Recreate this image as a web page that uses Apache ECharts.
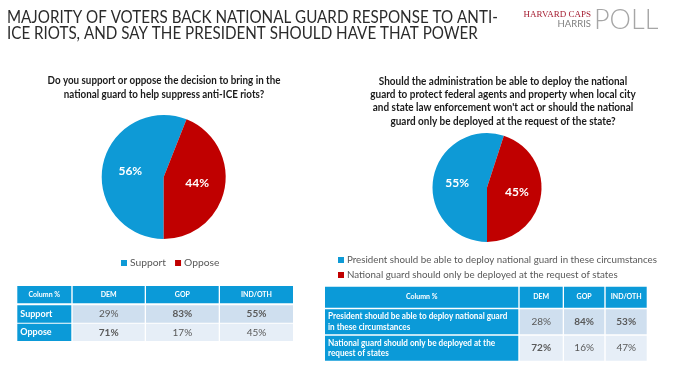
<!DOCTYPE html>
<html><head><meta charset="utf-8">
<script src="https://cdn.jsdelivr.net/npm/echarts@6/dist/echarts.min.js"></script>
<style>html,body{margin:0;padding:0;background:#fff}#c{width:679px;height:373px}</style>
</head><body><div id="c"></div>
<script>
// ---- data ----
const titleLines = ['MAJORITY OF VOTERS BACK NATIONAL GUARD RESPONSE TO ANTI-', 'ICE RIOTS, AND SAY THE PRESIDENT SHOULD HAVE THAT POWER'];
const q1Lines = ['Do you support or oppose the decision to bring in the', 'national guard to help suppress anti-ICE riots?'];
const q2Lines = ['Should the administration be able to deploy the national', 'guard to protect federal agents and property when local city', "and state law enforcement won't act or should the national", 'guard only be deployed at the request of the state?'];
const pie1Names = ['Support', 'Oppose'];
const pie1Values = [56, 44];
const pie2Names = ['President should be able to deploy national guard in these circumstances', 'National guard should only be deployed at the request of states'];
const pie2Values = [55, 45];
const tableCols = ['Column %', 'DEM', 'GOP', 'IND/OTH'];
const table1Rows = [['Support'], ['Oppose']];
const table1Values = [[29, 83, 55], [71, 17, 45]];
const table2Rows = [['President should be able to deploy national guard', 'in these circumstances'], ['National guard should only be deployed at the', 'request of states']];
const table2Values = [[28, 84, 53], [72, 16, 47]];
const logoTop = 'HARVARD CAPS';
const logoMid = 'HARRIS';
const logoBig = 'POLL';

// ---- style ----
const BLUE = '#0e9ad6', RED = '#c00000', HEAD = '#0b9ad8';
const ROWFILL = ['#cfdfef', '#e6eef7'];
const FONT = 'Lato, "Open Sans", sans-serif';

const g = [];
titleLines.forEach((t, i) => g.push({type: 'text', x: 7, y: 17.5 + i * 16.5, scaleX: 0.92, style: {text: t, fontSize: 16.5, fontFamily: FONT, fill: '#2b2b2b', verticalAlign: 'middle', align: 'left'}}));
q1Lines.forEach((t, i) => g.push({type: 'text', x: 164, y: 81 + i * 13.3, scaleX: 0.935, style: {text: t, fontSize: 10.5, fontWeight: 'bold', fontFamily: FONT, fill: '#1a1a1a', verticalAlign: 'middle', align: 'center'}}));
q2Lines.forEach((t, i) => g.push({type: 'text', x: 503, y: 81.7 + i * 13.2, scaleX: 0.95, style: {text: t, fontSize: 10.5, fontWeight: 'bold', fontFamily: FONT, fill: '#1a1a1a', verticalAlign: 'middle', align: 'center'}}));
// logo
g.push({type: 'text', x: 591, y: 14.5, style: {text: logoTop, fontSize: 9, fontFamily: '"Liberation Serif", serif', fill: '#a51c30', verticalAlign: 'middle', align: 'right'}});
g.push({type: 'text', x: 591, y: 23.5, style: {text: logoMid, fontSize: 9.5, fontFamily: FONT, fill: '#7f7f7f', verticalAlign: 'middle', align: 'right'}});
g.push({type: 'text', x: 594, y: 20, style: {text: logoBig, fontSize: 27, fontWeight: 300, fontFamily: FONT, fill: '#a6a6a6', verticalAlign: 'middle', align: 'left'}});

function table(colE, rowE, rows, vals, labelSize, labelScale) {
  tableCols.forEach((c, j) => {
    g.push({type: 'rect', shape: {x: colE[j][0], y: rowE[0][0], width: colE[j][1] - colE[j][0], height: rowE[0][1] - rowE[0][0]}, style: {fill: HEAD}});
    g.push({type: 'text', x: (colE[j][0] + colE[j][1]) / 2, y: (rowE[0][0] + rowE[0][1]) / 2, style: {text: c, fontSize: 7, fontWeight: 'bold', fontFamily: FONT, fill: '#fff', align: 'center', verticalAlign: 'middle'}});
  });
  rows.forEach((r, i) => {
    const y0 = rowE[i + 1][0], y1 = rowE[i + 1][1];
    g.push({type: 'rect', shape: {x: colE[0][0], y: y0, width: colE[0][1] - colE[0][0], height: y1 - y0}, style: {fill: HEAD}});
    const n = r.length;
    r.forEach((t, k) => g.push({type: 'text', x: colE[0][0] + 3, y: (y0 + y1) / 2 + (k - (n - 1) / 2) * 10.7, scaleX: labelScale, style: {text: t, fontSize: labelSize, fontWeight: 'bold', fontFamily: FONT, fill: '#fff', align: 'left', verticalAlign: 'middle'}}));
    vals[i].forEach((v, j) => {
      const c = colE[j + 1];
      g.push({type: 'rect', shape: {x: c[0], y: y0, width: c[1] - c[0], height: y1 - y0}, style: {fill: ROWFILL[i]}});
      g.push({type: 'text', x: (c[0] + c[1]) / 2, y: (y0 + y1) / 2, style: {text: v + '%', fontSize: 10, fontWeight: v > 50 ? 'bold' : 'normal', fontFamily: FONT, fill: '#595959', align: 'center', verticalAlign: 'middle'}});
    });
  });
}
table([[17.3, 71.3], [72.7, 144.7], [146, 218.7], [220, 293]], [[286, 303.3], [305.3, 322.7], [323.7, 341]], table1Rows, table1Values, 9, 1);
table([[325, 518.3], [519.7, 562.7], [564, 604.3], [605.7, 646.7]], [[286.7, 307.7], [309.3, 334.3], [335.7, 360.7]], table2Rows, table2Values, 8.8, 0.93);

const pieLabel = {show: true, position: 'inside', formatter: '{c}%', color: '#fff', fontSize: 12, fontWeight: 'bold', fontFamily: FONT};
const chart = echarts.init(document.getElementById('c'), null, {renderer: 'canvas'});
chart.setOption({
  animation: false,
  color: [BLUE, RED],
  legend: [
    {data: pie1Names, left: 116, top: 253, orient: 'horizontal', icon: 'rect', itemWidth: 6, itemHeight: 6, itemGap: 9, textStyle: {fontSize: 10.3, color: '#595959', fontFamily: FONT, padding: [0, 0, 0, -2]}},
    {data: pie2Names, left: 333, top: 250, orient: 'vertical', icon: 'rect', itemWidth: 6, itemHeight: 6, itemGap: 5, textStyle: {fontSize: 9.75, color: '#595959', fontFamily: FONT, padding: [0, 0, 0, -2]}}
  ],
  series: [
    {type: 'pie', center: [163.7, 177], radius: 62, startAngle: -90, label: pieLabel, labelLine: {show: false}, itemStyle: {borderWidth: 0}, emphasis: {disabled: true},
     data: pie1Names.map((n, i) => ({name: n, value: pie1Values[i]}))},
    {type: 'pie', center: [487, 187.5], radius: 54.5, startAngle: -90, label: pieLabel, labelLine: {show: false}, itemStyle: {borderWidth: 0}, emphasis: {disabled: true},
     data: pie2Names.map((n, i) => ({name: n, value: pie2Values[i]}))}
  ],
  graphic: g
});
</script></body></html>
